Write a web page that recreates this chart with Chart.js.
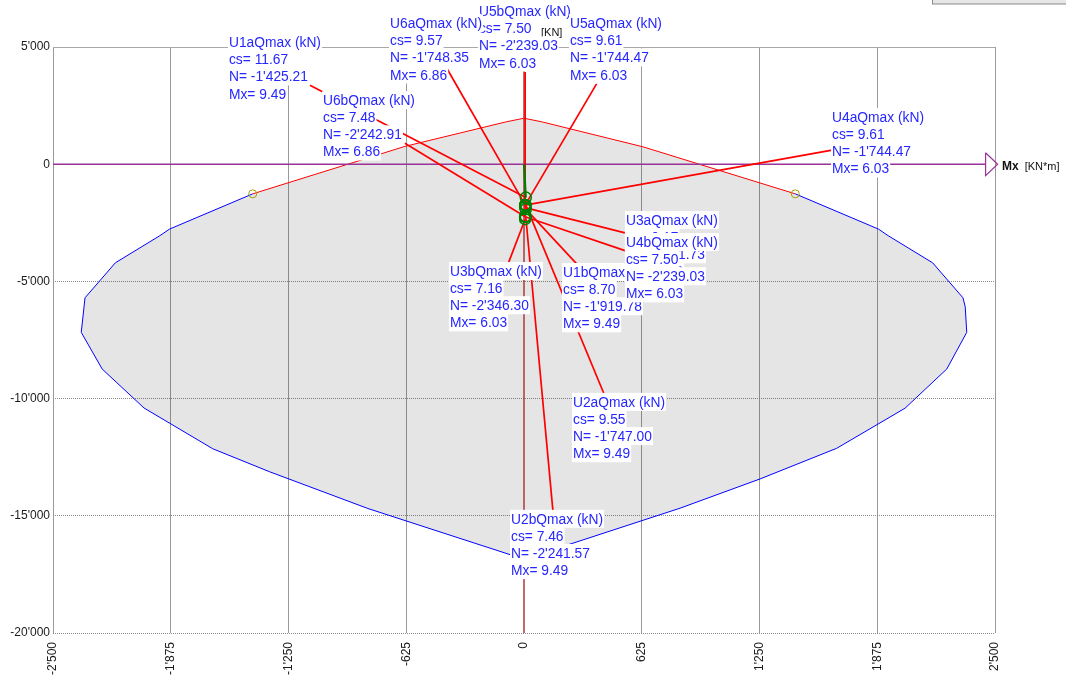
<!DOCTYPE html>
<html>
<head>
<meta charset="utf-8">
<script src="https://cdn.jsdelivr.net/npm/chart.js@4/dist/chart.umd.min.js"></script>
<style>
  html, body { margin: 0; padding: 0; background: #ffffff; }
  #wrap { position: relative; width: 1066px; height: 676px; }
</style>
</head>
<body>
<div id="wrap"><canvas id="c"></canvas></div>
<script>
// ---- Axis ticks -------------------------------------------------------
const xTicks = [-2500, -1875, -1250, -625, 0, 625, 1250, 1875, 2500];
const yTicks = [-20000, -15000, -10000, -5000, 0, 5000];

// ---- Mx–N interaction envelope (upper and lower boundary, left to right)
const upperMx = [-2350, -2330, -2169, -1933, -1882, -1440, -632, -97, 0, 97, 632, 1440, 1882, 1933, 2169, 2330, 2342, 2350];
const upperN  = [-7174, -5699, -4207, -3050, -2771, -1265, 760, 1803, 1961, 1803, 740, -1265, -2771, -3050, -4207, -5699, -6083, -7174];
const lowerMx = [-2350, -2239, -2017, -1652, -1352, -828, 0, 828, 1253, 1660, 2022, 2244, 2350];
const lowerN  = [-7174, -8738, -10400, -12140, -13116, -14690, -16850, -14676, -13427, -12119, -10413, -8738, -7174];

// points where the envelope line changes colour
const breakMx = [-1440, 1440];
const breakN  = [-1265, -1265];

// ---- Load cases -------------------------------------------------------
const caseNames = ['U1a', 'U1b', 'U2a', 'U2b', 'U3a', 'U3b', 'U4a', 'U4b', 'U5a', 'U5b', 'U6a', 'U6b'];
const caseCs    = [11.67, 8.70, 9.55, 7.46, 9.17, 7.16, 9.61, 7.50, 9.61, 7.50, 9.57, 7.48];
const caseN     = [-1425.21, -1919.78, -1747.00, -2241.57, -1851.73, -2346.30, -1744.47, -2239.03, -1744.47, -2239.03, -1748.35, -2242.91];
const caseMx    = [9.49, 9.49, 9.49, 9.49, 6.03, 6.03, 6.03, 6.03, 6.03, 6.03, 6.86, 6.86];

// ---- Callout placement (in axis units): text block corner and leader end
const calloutAt = {
  U1a: [-1566, 5413], U1b: [207, -4390],  U2a: [260, -9932],  U2b: [-69, -14919],
  U3a: [541, -2174],  U3b: [-393, -4348], U4a: [1635, 2217],  U4b: [541, -3112],
  U5a: [244, 6223],   U5b: [-239, 6735],  U6a: [-711, 6223],  U6b: [-1067, 2941]
};
const leaderEnd = {
  U1a: [-1136, 3367], U1b: [281, -4263],  U2a: [425, -9804],  U2b: [154, -14834],
  U3a: [536, -2928],  U3b: [-83, -4220],  U4a: [1635, 597],   U4b: [540, -3696],
  U5a: [386, 3440],   U5b: [6.03, 3934],  U6a: [-419, 4220],  U6b: [-632, 895]
};
const calloutOrder = ['U1a', 'U6b', 'U5b', 'U6a', 'U5a', 'U4a', 'U3b', 'U2a', 'U2b', 'U1b', 'U3a', 'U4b'];

// ---- Helpers ----------------------------------------------------------
function swissNumber(v, dec) {
  const s = Math.abs(v).toFixed(dec);
  const parts = s.split('.');
  const intPart = parts[0].replace(/\B(?=(\d{3})+(?!\d))/g, "'");
  return (v < 0 ? '-' : '') + intPart + (parts[1] ? '.' + parts[1] : '');
}
const pts = (xs, ys) => xs.map((x, i) => ({ x: x, y: ys[i] }));

const RED = '#ff0000', BLUE = '#0000ff', PURPLE = '#993399', GREEN = '#008000';
const LABEL_BLUE = '#2626ff';
const FONT = '"Liberation Sans", Arial, sans-serif';

// ---- Datasets ---------------------------------------------------------
const datasets = [];

// 0: envelope area (upper boundary filled down to dataset 1)
datasets.push({
  data: pts(upperMx, upperN), showLine: true, pointRadius: 0, borderWidth: 0,
  borderColor: 'rgba(0,0,0,0)', fill: 1, backgroundColor: 'rgba(0,0,0,0.10)', order: 21
});
// 1: lower boundary
datasets.push({
  data: pts(lowerMx, lowerN), showLine: true, pointRadius: 0, borderWidth: 1,
  borderColor: BLUE, fill: false, order: 19
});
// 2: upper boundary stroke, red over the tension cap, blue elsewhere
datasets.push({
  data: pts(upperMx, upperN), showLine: true, pointRadius: 0, borderWidth: 1, fill: false, order: 19,
  segment: { borderColor: c => (c.p0.parsed.y > -1400 && c.p1.parsed.y > -1400) ? RED : BLUE }
});

// Mx axis with open arrow head, N axis
datasets.push({
  data: [{ x: -2500, y: 0 }, { x: 2450, y: 0 }], showLine: true, pointRadius: 0,
  borderColor: PURPLE, borderWidth: 1.5, fill: false, order: 15
});
datasets.push({
  data: [{ x: 2450, y: 490 }, { x: 2514, y: 0 }, { x: 2450, y: -490 }, { x: 2450, y: 490 }],
  showLine: true, pointRadius: 0, borderColor: PURPLE, borderWidth: 1.2, fill: false,
  clip: false, order: 15
});
datasets.push({
  data: [{ x: 0, y: -20000 }, { x: 0, y: 5000 }], showLine: true, pointRadius: 0,
  borderColor: '#a83a3a', borderWidth: 1.5, fill: false, order: 16
});

// colour change markers on the envelope
datasets.push({
  data: pts(breakMx, breakN), showLine: false, pointRadius: 4, pointBorderWidth: 1,
  pointBorderColor: '#a0a000', pointBackgroundColor: 'rgba(0,0,0,0)', order: 12
});

// leader lines from each load point to its callout
caseNames.forEach((name, i) => {
  datasets.push({
    data: [{ x: caseMx[i], y: caseN[i] }, { x: leaderEnd[name][0], y: leaderEnd[name][1] }],
    showLine: true, pointRadius: 0, borderColor: RED, borderWidth: 1.7, fill: false, order: 8
  });
});

// load path from origin and load points
datasets.push({
  data: [{ x: 0, y: 0 }, { x: caseMx[0], y: caseN[0] }], showLine: true, pointRadius: 0,
  borderColor: GREEN, borderWidth: 2.2, fill: false, order: 5
});
datasets.push({
  data: pts(caseMx, caseN), showLine: false, pointRadius: 5.5, pointBorderWidth: 1.5,
  pointBorderColor: GREEN, pointBackgroundColor: 'rgba(0,0,0,0)', order: 4
});

// ---- Callouts and axis captions ----------------------------------------
const calloutPlugin = {
  id: 'callouts',
  afterDatasetsDraw(chart) {
    const { ctx, scales: { x, y }, chartArea } = chart;
    ctx.save();

    // window strip in the corner
    ctx.fillStyle = '#e6e6e6';
    ctx.fillRect(932, -4, 140, 8);
    ctx.strokeStyle = '#8a8a8a';
    ctx.lineWidth = 1;
    ctx.strokeRect(932.5, -4, 140, 8);

    // axis captions
    ctx.fillStyle = '#111111';
    ctx.textBaseline = 'alphabetic';
    ctx.font = '11px ' + FONT;
    ctx.fillText('[KN]', x.getPixelForValue(0) + 17, 35.5);
    ctx.font = 'bold 12px ' + FONT;
    const mxX = chartArea.right + 7;
    const mxY = y.getPixelForValue(0) + 5.5;
    ctx.fillText('Mx', mxX, mxY);
    const mxW = ctx.measureText('Mx').width;
    ctx.font = '11px ' + FONT;
    ctx.fillText('[KN*m]', mxX + mxW + 6, mxY);

    // callout blocks
    ctx.font = '13.8px ' + FONT;
    const lineH = 17.1;
    calloutOrder.forEach(name => {
      const i = caseNames.indexOf(name);
      const lines = [
        name + 'Qmax (kN)',
        'cs= ' + caseCs[i].toFixed(2),
        'N= ' + swissNumber(caseN[i], 2),
        'Mx= ' + caseMx[i].toFixed(2)
      ];
      const px = x.getPixelForValue(calloutAt[name][0]);
      const capTop = y.getPixelForValue(calloutAt[name][1]);
      lines.forEach((t, k) => {
        const base = capTop + 9.9 + k * lineH;
        const w = ctx.measureText(t).width;
        ctx.fillStyle = '#ffffff';
        ctx.fillRect(px - 1, base - 14, w + 2, 18);
        ctx.fillStyle = LABEL_BLUE;
        ctx.fillText(t, px, base);
      });
    });
    ctx.restore();
  }
};

// ---- Chart --------------------------------------------------------------
new Chart(document.getElementById('c'), {
  type: 'scatter',
  data: { datasets: datasets },
  options: {
    responsive: true,
    maintainAspectRatio: false,
    animation: false,
    events: [],
    layout: { padding: { left: 0, right: 71, top: 47, bottom: 0 } },
    plugins: { legend: { display: false }, tooltip: { enabled: false } },
    scales: {
      x: {
        type: 'linear', min: -2500, max: 2500,
        afterBuildTicks: s => { s.ticks = xTicks.map(v => ({ value: v })); },
        afterFit: s => { s.height = 43; },
        grid: { drawTicks: false, lineWidth: 1,
                color: c => (c.tick && c.tick.value === 0) ? 'rgba(0,0,0,0)' : '#9a9a9a' },
        border: { display: false },
        ticks: {
          autoSkip: false, minRotation: 90, maxRotation: 90, padding: 9,
          color: '#1a1a1a', font: { family: FONT, size: 12 },
          callback: v => swissNumber(v, 0)
        }
      },
      y: {
        type: 'linear', min: -20000, max: 5000,
        afterBuildTicks: s => { s.ticks = yTicks.map(v => ({ value: v })); },
        afterFit: s => { s.width = 53; },
        grid: { drawTicks: false, lineWidth: 1,
                color: c => (c.tick && c.tick.value === 0) ? 'rgba(0,0,0,0)' : (c.tick && c.tick.value === 5000 ? '#a8a8a8' : '#8c8c8c') },
        border: { display: false, dash: c => (c.tick && c.tick.value === 5000) ? [] : [1, 1] },
        ticks: {
          padding: 3, color: '#1a1a1a', font: { family: FONT, size: 12 },
          callback: v => swissNumber(v, 0)
        }
      }
    }
  },
  plugins: [calloutPlugin]
});
</script>
</body>
</html>
